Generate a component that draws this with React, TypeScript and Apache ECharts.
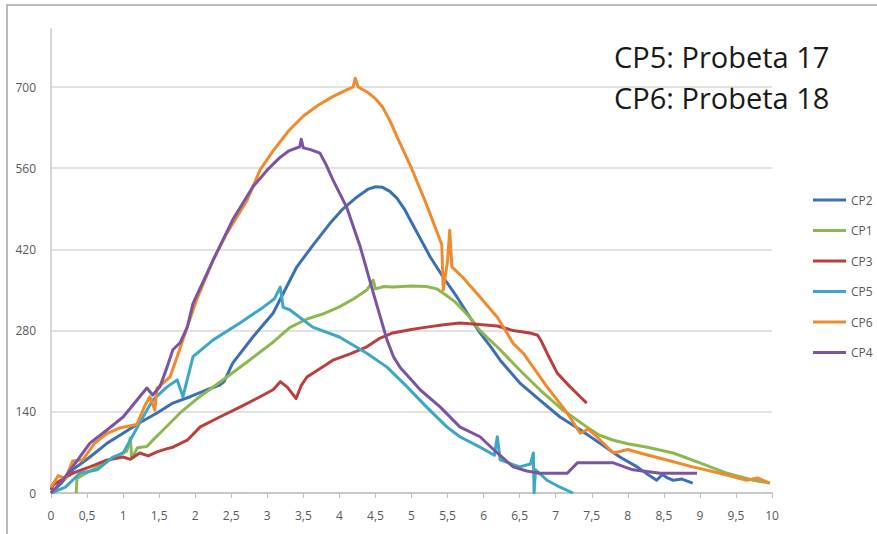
import React, { useEffect, useRef } from "react";
import * as echarts from "echarts";

const seriesNames = ["CP2", "CP1", "CP3", "CP5", "CP6", "CP4"];
const seriesColors = ["#3D6FB6", "#8DB84F", "#B8403D", "#3CA8C6", "#F08A2C", "#7B55A3"];
const yTicks = [0, 140, 280, 420, 560, 700];
const notes = ["CP5: Probeta 17", "CP6: Probeta 18"];

const cp2 = [
  [0, 0], [0.15, 18], [0.3, 40], [0.54, 62], [0.78, 86], [1.0, 103], [1.23, 121], [1.47, 138],
  [1.69, 155], [1.93, 166], [2.16, 178], [2.34, 186], [2.4, 192], [2.52, 224], [2.8, 269],
  [3.08, 310], [3.41, 390], [3.65, 430], [3.87, 465], [4.05, 490], [4.24, 510], [4.4, 524],
  [4.5, 528], [4.6, 527], [4.7, 520], [4.8, 508], [4.9, 490], [5.02, 462], [5.26, 407],
  [5.44, 372], [5.63, 338], [5.81, 303], [5.95, 276], [6.1, 252], [6.23, 229], [6.5, 190],
  [6.78, 160], [7.06, 131], [7.34, 109], [7.61, 86], [7.89, 62], [8.13, 45], [8.3, 30],
  [8.4, 22], [8.48, 32], [8.55, 26], [8.63, 22], [8.75, 24], [8.9, 17],
];

const cp1 = [
  [0.35, 0], [0.36, 25], [0.5, 35], [0.78, 55], [1.05, 72], [1.1, 95], [1.12, 60], [1.2, 78],
  [1.33, 80], [1.42, 92], [1.51, 103], [1.79, 138], [2.02, 162], [2.34, 191], [2.72, 226],
  [3.08, 260], [3.31, 285], [3.55, 300], [3.8, 310], [4.0, 321], [4.2, 335], [4.38, 350],
  [4.47, 367], [4.5, 352], [4.62, 356], [4.74, 355], [5.0, 357], [5.21, 356], [5.35, 352],
  [5.49, 340], [5.6, 330], [5.71, 316], [5.83, 300], [5.95, 280], [6.23, 247], [6.5, 212],
  [6.78, 178], [7.1, 143], [7.43, 114], [7.6, 100], [7.8, 91], [8.0, 85], [8.27, 79],
  [8.63, 69], [9.0, 52], [9.38, 34], [9.74, 22], [9.97, 17],
];

const cp3 = [
  [0, 5], [0.03, 14], [0.3, 34], [0.54, 45], [0.78, 57], [1.0, 62], [1.1, 58], [1.23, 69],
  [1.35, 64], [1.47, 71], [1.6, 76], [1.69, 79], [1.89, 91], [2.07, 114], [2.34, 131],
  [2.62, 148], [2.9, 166], [3.08, 178], [3.18, 192], [3.28, 182], [3.4, 163], [3.47, 185],
  [3.55, 200], [3.75, 216], [3.91, 229], [4.15, 240], [4.38, 252], [4.55, 266], [4.74, 276],
  [5.0, 282], [5.21, 286], [5.45, 290], [5.67, 293], [5.9, 291], [6.19, 288], [6.41, 280],
  [6.64, 276], [6.75, 272], [6.8, 262], [6.88, 241], [7.02, 207], [7.2, 183], [7.34, 166],
  [7.43, 155],
];

const cp5 = [
  [0, 0], [0.2, 10], [0.4, 34], [0.64, 40], [0.86, 62], [1.0, 69], [1.1, 91], [1.23, 121],
  [1.41, 160], [1.61, 183], [1.75, 195], [1.83, 166], [1.97, 235], [2.25, 264], [2.62, 293],
  [2.94, 320], [3.1, 335], [3.18, 355], [3.22, 320], [3.31, 316], [3.63, 286], [4.0, 269],
  [4.38, 241], [4.66, 217], [4.94, 183], [5.21, 148], [5.49, 114], [5.67, 97], [5.95, 79],
  [6.15, 65], [6.19, 97], [6.23, 57], [6.5, 45], [6.65, 50], [6.69, 69], [6.7, 0], [6.72, 40],
  [6.88, 22], [7.06, 10], [7.24, 0],
];

const cp6 = [
  [0, 10], [0.1, 30], [0.2, 25], [0.3, 55], [0.44, 57], [0.6, 85], [0.78, 103], [0.95, 112],
  [1.19, 118], [1.3, 150], [1.37, 166], [1.44, 143], [1.47, 181], [1.65, 200], [1.75, 235],
  [1.89, 286], [2.02, 333], [2.25, 402], [2.44, 448], [2.72, 505], [2.9, 557], [3.08, 590],
  [3.3, 625], [3.5, 650], [3.7, 668], [3.9, 683], [4.1, 695], [4.19, 700], [4.22, 715],
  [4.26, 700], [4.4, 690], [4.5, 680], [4.6, 665], [4.7, 642], [4.8, 614], [5.0, 560],
  [5.2, 500], [5.42, 428], [5.44, 350], [5.5, 400], [5.53, 453], [5.56, 390], [5.71, 372],
  [5.95, 338], [6.19, 303], [6.41, 258], [6.55, 241], [6.88, 183], [7.16, 138], [7.34, 103],
  [7.45, 110], [7.57, 97], [7.8, 69], [8.0, 75], [8.17, 69], [8.54, 57], [8.9, 45],
  [9.28, 34], [9.65, 22], [9.8, 26], [9.97, 17],
];

const cp4 = [
  [0, 0], [0.15, 20], [0.3, 45], [0.54, 86], [0.78, 109], [1.0, 131], [1.19, 160], [1.33, 181],
  [1.41, 169], [1.51, 183], [1.61, 217], [1.69, 247], [1.79, 259], [1.89, 286], [1.97, 327],
  [2.25, 402], [2.52, 471], [2.8, 528], [3.0, 557], [3.18, 579], [3.3, 590], [3.45, 597],
  [3.47, 610], [3.5, 595], [3.6, 592], [3.73, 586], [3.82, 565], [3.91, 540], [4.1, 493],
  [4.29, 424], [4.47, 345], [4.66, 264], [4.75, 235], [4.84, 217], [5.0, 195], [5.12, 178],
  [5.4, 148], [5.67, 114], [5.95, 97], [6.19, 69], [6.41, 45], [6.6, 38], [6.78, 34],
  [7.16, 34], [7.3, 52], [7.8, 52], [8.07, 40], [8.45, 34], [8.72, 34], [8.96, 34],
];

const seriesData = [cp2, cp1, cp3, cp5, cp6, cp4];

export default function App() {
  const ref = useRef<HTMLDivElement>(null);
  useEffect(() => {
    if (!ref.current) return;
    const chart = echarts.init(ref.current, undefined, { renderer: "svg" });
    const font = "'Open Sans', sans-serif";
    chart.setOption({
      animation: false,
      backgroundColor: "#ffffff",
      grid: { left: 51, right: 105, top: 29, bottom: 41 },
      legend: {
        orient: "vertical",
        left: 808,
        top: 188,
        itemWidth: 33,
        itemHeight: 3,
        itemGap: 16.5,
        icon: "rect",
        data: seriesNames,
        textStyle: { color: "#595959", fontSize: 12, lineHeight: 14, fontFamily: font },
      },
      xAxis: {
        type: "value",
        min: 0,
        max: 10,
        interval: 0.5,
        axisLine: { show: true, lineStyle: { color: "#bfbfbf", width: 1.5 } },
        axisTick: { show: true, length: 5, lineStyle: { color: "#bfbfbf" } },
        splitLine: { show: false },
        axisLabel: {
          color: "#595959",
          fontSize: 12,
          fontFamily: font,
          margin: 16,
          formatter: (v: number) => String(v).replace(".", ","),
        },
      },
      yAxis: {
        type: "value",
        min: yTicks[0],
        max: 800,
        interval: yTicks[1] - yTicks[0],
        axisLine: { show: true, lineStyle: { color: "#c8c8c8", width: 1.5 } },
        axisTick: { show: false },
        splitLine: { show: true, showMaxLine: false, lineStyle: { color: "#d9d9d9", width: 1.5 } },
        axisLabel: {
          color: "#595959",
          fontSize: 12,
          fontFamily: font,
          margin: 15,
          showMaxLabel: false,
        },
      },
      series: seriesNames.map((name, i) => ({
        name,
        type: "line",
        data: seriesData[i],
        symbol: "none",
        showSymbol: false,
        color: seriesColors[i],
        lineStyle: { width: 3, color: seriesColors[i], join: "round" },
        z: 2 + i,
      })),
      graphic: [
        {
          type: "rect",
          shape: { x: 7, y: 5, width: 900, height: 600 },
          style: { fill: "none", stroke: "#a6a6a6", lineWidth: 1.5 },
          silent: true,
        },
        ...notes.map((t, i) => ({
          type: "text",
          x: 614,
          y: 56 + i * 41,
          style: {
            text: t,
            fill: "#1a1a1a",
            font: `29px ${font}`,
            verticalAlign: "middle",
            align: "left",
          },
        })),
      ],
    });
    return () => chart.dispose();
  }, []);
  return (
    <div
      ref={ref}
      style={{ position: "fixed", left: 0, top: 0, width: 877, height: 534, background: "#fff" }}
    />
  );
}
